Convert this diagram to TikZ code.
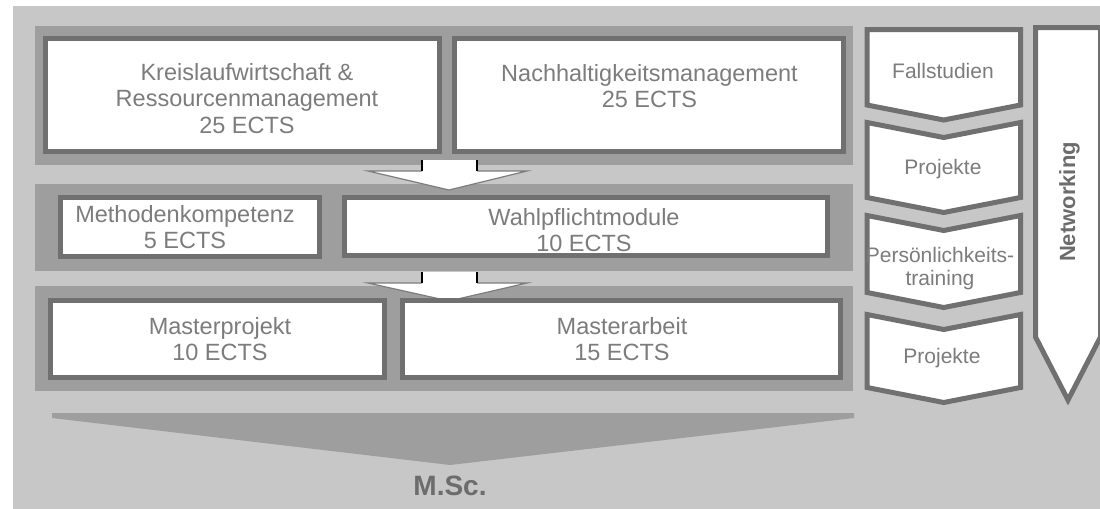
\documentclass[tikz,border=0pt]{standalone}
\usepackage{fontspec}
\setmainfont{Liberation Sans}
\definecolor{bglight}{RGB}{199,199,199}
\definecolor{bandgray}{RGB}{158,158,158}
\definecolor{bordergray}{RGB}{112,112,112}
\definecolor{txtgray}{RGB}{124,124,124}
\definecolor{darkgrayt}{RGB}{108,108,108}
\definecolor{headline}{RGB}{125,125,125}
\newcommand\mainfont{\fontsize{11.75pt}{13.25pt}\selectfont}
\newcommand\sidefont{\fontsize{10.5pt}{11.5pt}\selectfont}
\newcommand\twoline[1]{\begin{tabular}[t]{@{}c@{}}#1\end{tabular}}
\tikzset{
  box/.style={draw=bordergray, line width=2.5pt, fill=white, inner sep=0pt, rectangle},
  txt/.style={text=txtgray, font=\mainfont, inner sep=0pt, anchor=base},
  sidetxt/.style={text=txtgray, font=\sidefont, inner sep=0pt, anchor=base},
  chev/.style={draw=bordergray, line width=2.5pt, fill=white, line join=miter},
  band/.style={fill=bandgray},
  headout/.style={draw=headline, line width=0.6pt},
  tick/.style={draw=black, line width=0.8pt}
}
\begin{document}
\begin{tikzpicture}[x=0.5pt,y=-0.5pt]
\useasboundingbox (0,0) rectangle (1100,509);
% background
\fill[bglight] (13,6) rectangle (1100,509);
% bands
\fill[band] (35,26) rectangle (853,165);
\fill[band] (35,184) rectangle (853,271);
\fill[band] (35,286) rectangle (853,391);
% row 1
\node[box, minimum width=197pt, minimum height=56.5pt] (kr) at (242.5,95) {};
\node[box, minimum width=194.5pt, minimum height=56.5pt] (na) at (649,95) {};
\node[txt] (krt) at (247,80) {\twoline{Kreislaufwirtschaft \&\\Ressourcenmanagement\\25 ECTS}};
\node[txt] (nat) at (649.5,81) {\twoline{Nachhaltigkeitsmanagement\\25 ECTS}};
% arrow 1
\fill[white] (422,160) -- (477,160) -- (477,171) -- (527,171) -- (449,190) -- (368,171) -- (422,171) -- cycle;
\draw[headout] (422,171) -- (368,171) -- (449,190) -- (527,171) -- (477,171);
\draw[tick] (422,160) -- (422,171);
\draw[tick] (477,160) -- (477,171);
% row 2
\node[box, minimum width=129.5pt, minimum height=29.5pt] (me) at (190,227) {};
\node[box, minimum width=241.5pt, minimum height=29pt] (wa) at (586,226.5) {};
\node[txt] (met) at (185,222) {\twoline{Methodenkompetenz\\5 ECTS}};
\node[txt] (wat) at (584,225) {\twoline{Wahlpflichtmodule\\10 ECTS}};
% arrow 2
\fill[white] (422,272) -- (477,272) -- (477,283) -- (527,283) -- (449,301) -- (368,283) -- (422,283) -- cycle;
\draw[headout] (422,283) -- (368,283) -- (449,301) -- (527,283) -- (477,283);
\draw[tick] (422,272) -- (422,283);
\draw[tick] (477,272) -- (477,283);
% row 3
\node[box, minimum width=167pt, minimum height=38.5pt] (mp) at (217.5,339) {};
\node[box, minimum width=219pt, minimum height=38.5pt] (ma) at (621.5,339) {};
\node[txt] (mpt) at (220,334) {\twoline{Masterprojekt\\10 ECTS}};
\node[txt] (mat) at (622,334) {\twoline{Masterarbeit\\15 ECTS}};
% big bottom arrow
\fill[bandgray] (52,413) -- (854,413) -- (854,418) -- (450,465) -- (52,418) -- cycle;
\node[font=\fontsize{14pt}{16pt}\selectfont\bfseries, text=darkgrayt, inner sep=0pt, anchor=base] (msc) at (450,495) {M.Sc.};
% right column chevrons
\draw[chev] (867,29.5) -- (1020.5,29.5) -- (1020.5,105) -- (943.75,120) -- (867,105) -- cycle;
\draw[chev] (867,122.5) -- (943.75,137.5) -- (1020.5,122.5) -- (1020.5,197.5) -- (943.75,212.5) -- (867,197.5) -- cycle;
\draw[chev] (867,215.5) -- (943.75,230.5) -- (1020.5,215.5) -- (1020.5,292.5) -- (943.75,307.5) -- (867,292.5) -- cycle;
\draw[chev] (867,314.5) -- (943.75,329.5) -- (1020.5,314.5) -- (1020.5,387.5) -- (943.75,402.5) -- (867,387.5) -- cycle;
\node[sidetxt] (fa) at (943,78) {Fallstudien};
\node[sidetxt] (pr1) at (943,174) {Projekte};
\node[sidetxt] (pe) at (940,262) {\twoline{Persönlichkeits-\\training}};
\node[sidetxt] (pr2) at (942,363) {Projekte};
% networking arrow
\draw[chev] (1035.5,27.5) -- (1100.5,27.5) -- (1100.5,337) -- (1068,400) -- (1035.5,337) -- cycle;
\node[rotate=90, anchor=base, inner sep=0pt, text=darkgrayt, font=\fontsize{11pt}{13pt}\selectfont\bfseries] (net) at (1075,202) {Networking};
\end{tikzpicture}
\end{document}
